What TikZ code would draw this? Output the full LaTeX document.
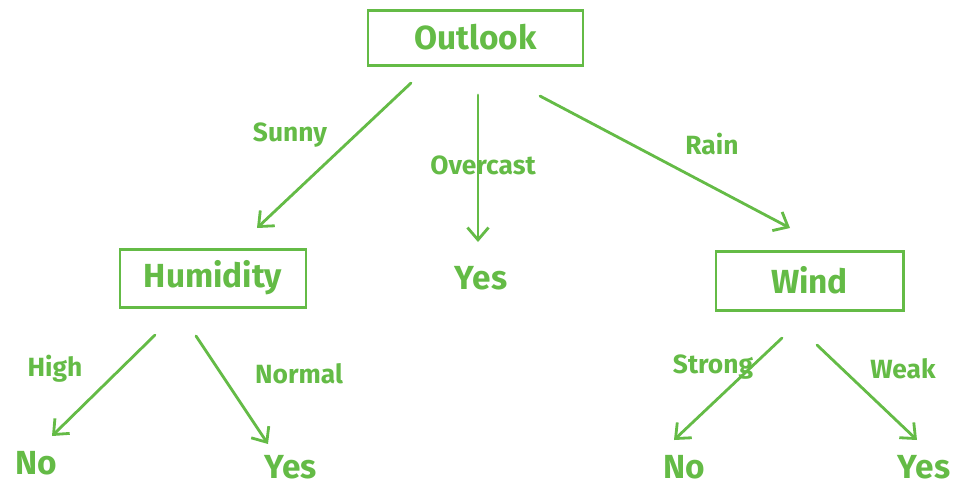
\documentclass[tikz,border=0pt]{standalone}
\usepackage{fontspec}
\setmainfont{Fira Sans}
\usetikzlibrary{arrows.meta}
\definecolor{pen}{RGB}{100,187,70}
\tikzset{
  box/.style={draw=pen, line width=1.7pt, minimum width=#1, inner sep=0pt},
  word/.style={text=pen, inner sep=0pt, font=\fontsize{19}{22}\selectfont\bfseries},
  lbl/.style={text=pen, inner sep=0pt, font=\fontsize{15}{18}\selectfont\bfseries},
  link/.style={draw=pen, line width=1.6pt, line cap=round, -{Straight Barb[length=7pt,width=12pt,line width=1.6pt]}}
}
\begin{document}
\begin{tikzpicture}[x=0.02cm,y=-0.02cm]
\useasboundingbox (0,0) rectangle (954,485);
% boxes
\node[box=215*0.02cm, minimum height=55*0.02cm, word] (outlook) at (475.5,37.5) {Outlook};
\node[box=186*0.02cm, minimum height=58*0.02cm, word] (humidity) at (213,278) {Humidity};
\node[box=187*0.02cm, minimum height=59*0.02cm, word] (wind) at (809.5,280.5) {Wind};
% leaves
\node[word] (yes1) at (481,278) {Yes};
\node[word] (no1) at (36,463) {No};
\node[word] (yes2) at (291,467) {Yes};
\node[word] (no2) at (684,467) {No};
\node[word] (yes3) at (924,467) {Yes};
% edge end points
\coordinate (o1) at (411,83);   \coordinate (h0) at (257,228);
\coordinate (o2) at (478,95);   \coordinate (y0) at (478,242);
\coordinate (o3) at (540,96);   \coordinate (w0) at (790,228);
\coordinate (h1) at (155,335);  \coordinate (n1) at (52,436);
\coordinate (h2) at (196,336);  \coordinate (y2) at (268,444);
\coordinate (w1) at (782,338);  \coordinate (n2) at (674,440);
\coordinate (w2) at (817,345);  \coordinate (y3) at (917,440);
% connectors
\draw[link] (o1) -- (h0);
\draw[link] (o2) -- (y0);
\draw[link] (o3) -- (w0);
\draw[link] (h1) -- (n1);
\draw[link] (h2) -- (y2);
\draw[link] (w1) -- (n2);
\draw[link] (w2) -- (y3);
% edge labels
\node[lbl] (lsunny) at (290,135) {Sunny};
\node[lbl] (lover) at (483,165) {Overcast};
\node[lbl] (lrain) at (712,144) {Rain};
\node[lbl] (lhigh) at (55,369) {High};
\node[lbl] (lnormal) at (299,374) {Normal};
\node[lbl] (lstrong) at (713,367) {Strong};
\node[lbl] (lweak) at (903,369) {Weak};
\end{tikzpicture}
\end{document}
